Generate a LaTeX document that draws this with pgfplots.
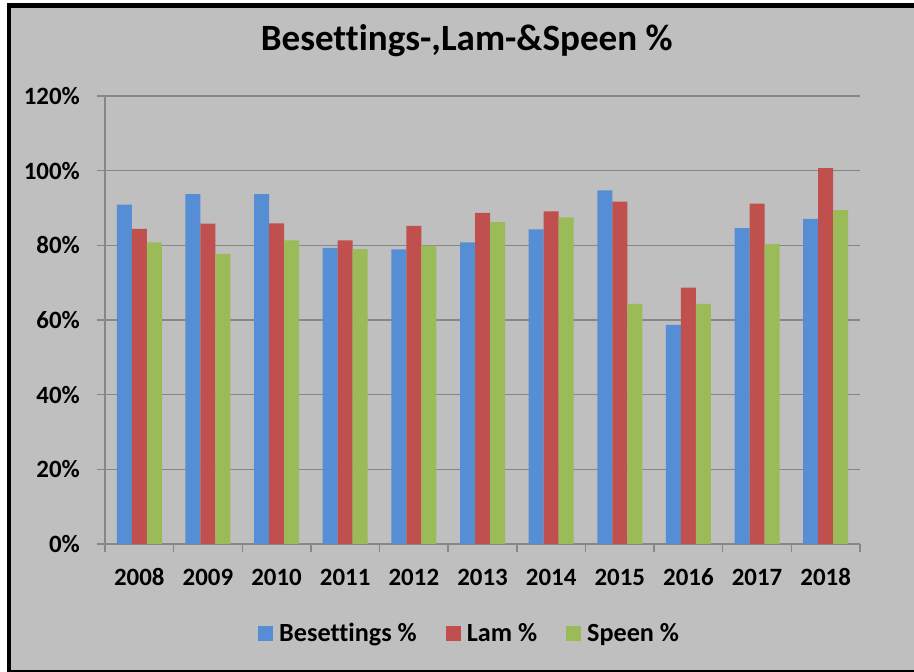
\documentclass[border=0pt]{standalone}
\usepackage{fontspec}
\setmainfont{Carlito}[Ligatures={NoCommon}]
\usepackage{pgfplots}
\pgfplotsset{compat=1.18}
\definecolor{bgray}{HTML}{BFBFBF}
\definecolor{ggray}{HTML}{878787}
\definecolor{cblue}{HTML}{558ED5}
\definecolor{cred}{HTML}{C0504D}
\definecolor{cgreen}{HTML}{9BBB59}
\begin{document}
\begin{tikzpicture}
\useasboundingbox (0,0) rectangle (914bp,672bp);
\fill[white] (0,0) rectangle (914bp,672bp);
\filldraw[fill=bgray, draw=black, line width=4.5bp] (9bp,0bp) rectangle (925bp,666.5bp);
\node[anchor=base, inner sep=0pt, font=\fontsize{37.2}{37.2}\selectfont\bfseries] at (466.7bp,621.3bp) {Besettings-,Lam-\&Speen \%};
\begin{axis}[
  at={(105bp,128bp)}, anchor=south west,
  scale only axis, width=755bp, height=448bp,
  xmin=-0.5, xmax=10.5, ymin=0, ymax=120,
  ybar=0pt, bar width=15bp,
  axis lines*=left,
  axis line style={draw=ggray, line width=1.5bp, -},
  tick align=outside,
  major tick length=8bp,
  tick style={draw=ggray, line width=1.5bp},
  ytick={0,20,40,60,80,100,120},
  yticklabels={0\%,20\%,40\%,60\%,80\%,100\%,120\%},
  ymajorgrids, grid style={draw=ggray, line width=1.5bp},
  xtick={-0.5,0.5,...,10.5},
  xticklabels={},
  extra x ticks={0,1,2,3,4,5,6,7,8,9,10},
  extra x tick labels={2008,2009,2010,2011,2012,2013,2014,2015,2016,2017,2018},
  extra x tick style={major tick length=0pt, grid=none},
  tick label style={font=\fontsize{25}{25}\selectfont\bfseries, text=black},
  yticklabel style={anchor=east, inner sep=0pt, xshift=-17bp},
  xticklabel style={anchor=base, inner sep=0pt, yshift=-41.7bp},
  legend columns=3,
  legend style={at={(0.2026,-0.1987)}, anchor=west, draw=none, fill=none,
    font=\fontsize{26.3}{26.3}\selectfont\bfseries, inner sep=0pt,
    nodes={inner sep=0pt},
    /tikz/every odd column/.append style={column sep=6bp},
    /tikz/every even column/.append style={column sep=29bp}},
  legend image code/.code={\fill[#1] (0bp,-7.5bp) rectangle (15bp,7.5bp);},
]
\addplot[fill=cblue, draw=none] coordinates {(0,90.9) (1,93.7) (2,93.7) (3,79.3) (4,78.9) (5,80.8) (6,84.3) (7,94.7) (8,58.7) (9,84.6) (10,87.1)};
\addplot[fill=cred, draw=none] coordinates {(0,84.4) (1,85.8) (2,85.9) (3,81.3) (4,85.2) (5,88.7) (6,89.1) (7,91.7) (8,68.7) (9,91.2) (10,100.7)};
\addplot[fill=cgreen, draw=none] coordinates {(0,80.8) (1,77.7) (2,81.3) (3,79.0) (4,79.9) (5,86.2) (6,87.5) (7,64.3) (8,64.3) (9,80.3) (10,89.4)};
\legend{Besettings \%, Lam \%, Speen \%}
\end{axis}
\end{tikzpicture}
\end{document}
